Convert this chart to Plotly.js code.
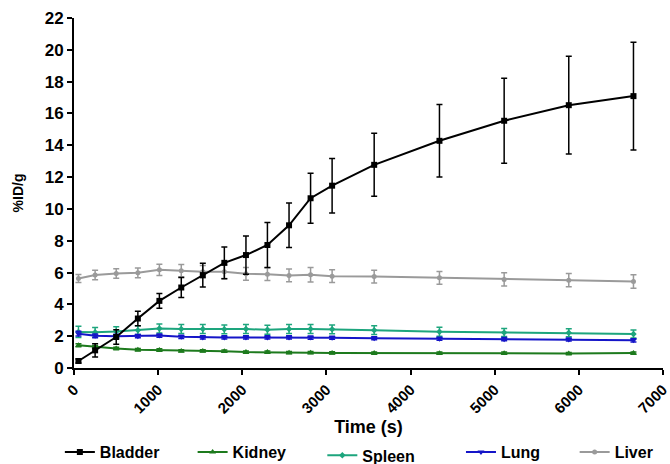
<!DOCTYPE html>
<html>
<head>
<meta charset="utf-8">
<script src="https://cdn.plot.ly/plotly-3.0.1.min.js"></script>
<style>html,body{margin:0;padding:0;background:#fff;}#chart{width:670px;height:464px;}</style>
</head>
<body>
<div id="chart"></div>
<script>
const time = [53, 251, 502, 759, 1015, 1275, 1531, 1787, 2044, 2299, 2556, 2812, 3068, 3568, 4344, 5113, 5881, 6650];
const bladder = [0.44, 1.11, 1.95, 3.11, 4.22, 5.06, 5.84, 6.61, 7.10, 7.73, 8.97, 10.67, 11.46, 12.77, 14.28, 15.54, 16.52, 17.09];
const bladderErr = [0.12, 0.42, 0.45, 0.45, 0.47, 0.63, 0.75, 1.0, 1.2, 1.42, 1.4, 1.57, 1.71, 1.98, 2.28, 2.67, 3.07, 3.39];
const kidney = [1.43, 1.32, 1.22, 1.15, 1.13, 1.07, 1.07, 1.06, 1.0, 1.0, 0.96, 0.96, 0.95, 0.94, 0.93, 0.93, 0.91, 0.94];
const kidneyErr = [0.1, 0.1, 0.08, 0.08, 0.08, 0.07, 0.07, 0.07, 0.07, 0.07, 0.07, 0.07, 0.07, 0.07, 0.07, 0.07, 0.07, 0.07];
const spleen = [2.27, 2.25, 2.3, 2.38, 2.48, 2.45, 2.45, 2.43, 2.45, 2.4, 2.45, 2.45, 2.43, 2.38, 2.28, 2.23, 2.22, 2.14];
const spleenErr = [0.35, 0.3, 0.3, 0.28, 0.28, 0.28, 0.28, 0.28, 0.28, 0.28, 0.28, 0.28, 0.28, 0.28, 0.28, 0.25, 0.25, 0.25];
const lung = [2.16, 2.02, 2.0, 2.0, 2.04, 1.96, 1.92, 1.92, 1.92, 1.92, 1.92, 1.91, 1.9, 1.87, 1.84, 1.81, 1.79, 1.74];
const lungErr = [0.15, 0.12, 0.12, 0.1, 0.1, 0.1, 0.1, 0.1, 0.1, 0.1, 0.1, 0.1, 0.1, 0.1, 0.1, 0.1, 0.1, 0.1];
const liver = [5.63, 5.84, 5.94, 5.98, 6.17, 6.12, 6.05, 6.05, 5.92, 5.9, 5.82, 5.86, 5.77, 5.75, 5.67, 5.57, 5.52, 5.44];
const liverErr = [0.25, 0.3, 0.3, 0.3, 0.35, 0.38, 0.4, 0.42, 0.4, 0.4, 0.4, 0.45, 0.4, 0.4, 0.4, 0.42, 0.42, 0.42];
const yTicks = [0, 2, 4, 6, 8, 10, 12, 14, 16, 18, 20, 22];
const xTicks = [0, 1000, 2000, 3000, 4000, 5000, 6000, 7000];

function series(name, y, err, color, symbol, size, legendId) {
  return {
    x: time, y: y, name: name, type: 'scatter', mode: 'lines+markers',
    legend: legendId,
    line: {color: color, width: 2},
    marker: {color: color, symbol: symbol, size: size},
    error_y: {type: 'data', array: err, visible: true, color: color, thickness: 1.5, width: 3}
  };
}
const traces = [
  series('Liver', liver, liverErr, '#9a9a9a', 'circle', 5, 'legend5'),
  series('Spleen', spleen, spleenErr, '#1da57d', 'diamond', 5, 'legend3'),
  series('Lung', lung, lungErr, '#1515c8', 'triangle-down', 6, 'legend4'),
  series('Kidney', kidney, kidneyErr, '#1d7a1d', 'triangle-up', 6, 'legend2'),
  series('Bladder', bladder, bladderErr, '#000000', 'square', 6, 'legend')
];

const font = {family: 'Liberation Sans, Arial, sans-serif', color: '#000'};
const legendFont = {family: font.family, size: 16, color: '#000', weight: 'bold'};
function legendAt(x, y) {
  return {orientation: 'h', x: x, y: y, xanchor: 'left', yanchor: 'top', itemwidth: 30,
    font: legendFont, bgcolor: 'rgba(0,0,0,0)'};
}
const layout = {
  width: 670, height: 464,
  margin: {l: 74, r: 7, t: 18, b: 96, autoexpand: false},
  paper_bgcolor: '#fff', plot_bgcolor: '#fff',
  font: font,
  showlegend: true,
  legend: legendAt(-0.024, -0.192),
  legend2: legendAt(0.2014, -0.192),
  legend3: legendAt(0.4216, -0.201),
  legend4: legendAt(0.6570, -0.192),
  legend5: legendAt(0.8500, -0.192),
  xaxis: {
    range: [0, 7001], tickvals: xTicks, ticktext: xTicks.map(String), automargin: false,
    ticklabeloverflow: 'allow',
    tickangle: -45, ticks: 'outside', ticklen: 5, tickwidth: 2, tickcolor: '#000',
    showline: true, linecolor: '#000', linewidth: 2, showgrid: false, zeroline: false,
    tickfont: {family: font.family, size: 15, color: '#000', weight: 'bold'},
    title: {text: 'Time (s)', font: {family: font.family, size: 18, color: '#000', weight: 'bold'}, standoff: 0}
  },
  yaxis: {
    range: [0, 22], tickvals: yTicks, ticktext: yTicks.map(String), automargin: false,
    ticks: 'outside', ticklen: 5, tickwidth: 2, tickcolor: '#000',
    showline: true, linecolor: '#000', linewidth: 2, showgrid: false, zeroline: false,
    tickfont: {family: font.family, size: 17, color: '#000', weight: 'bold'},
    title: {text: '%ID/g', font: {family: font.family, size: 14, color: '#000', weight: 'bold'}, standoff: 18}
  }
};
Plotly.newPlot('chart', traces, layout, {displayModeBar: false, staticPlot: true});
</script>
</body>
</html>
